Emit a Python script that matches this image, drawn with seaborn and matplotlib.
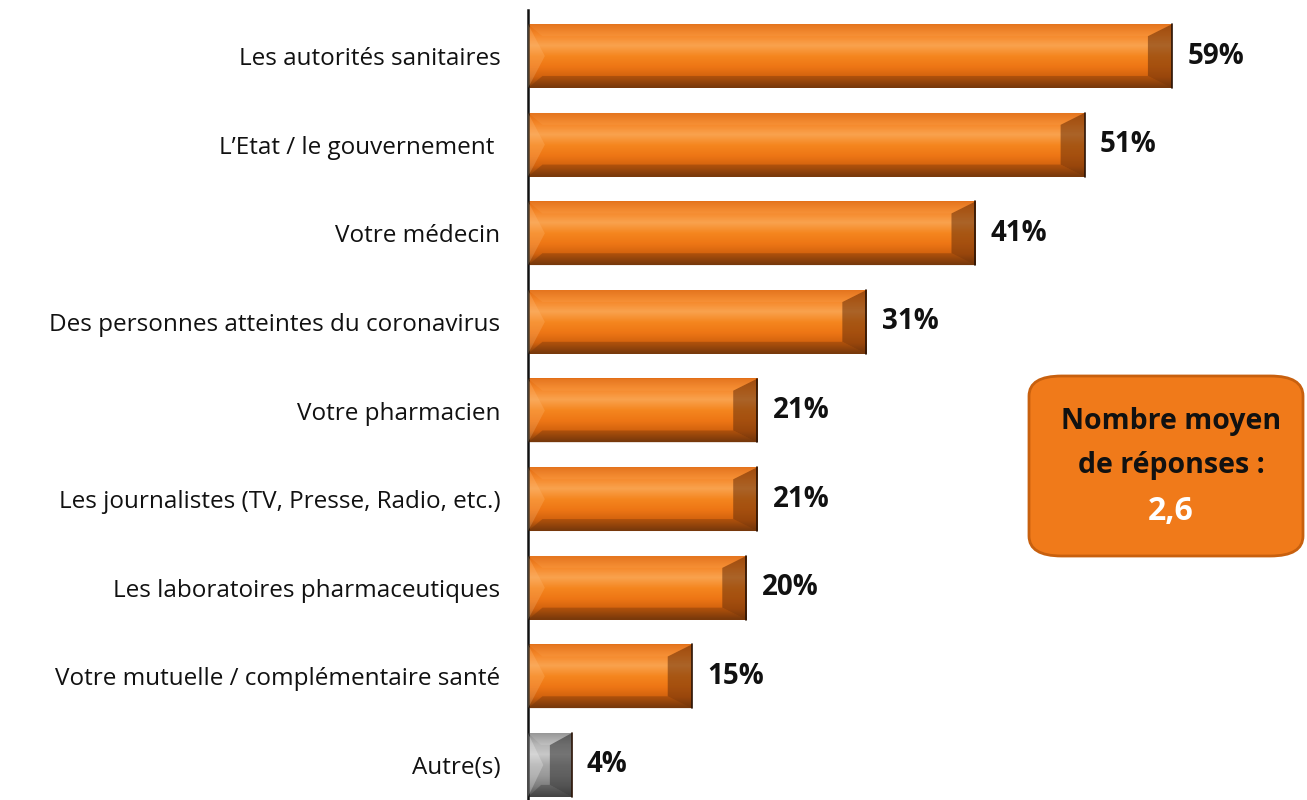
import matplotlib.pyplot as plt
import numpy as np
import pandas as pd
import seaborn as sns
from matplotlib.colors import LinearSegmentedColormap
from matplotlib.patches import Polygon, FancyBboxPatch

categories = [
    "Les autorités sanitaires",
    "L\u2019Etat / le gouvernement ",
    "Votre médecin",
    "Des personnes atteintes du coronavirus",
    "Votre pharmacien",
    "Les journalistes (TV, Presse, Radio, etc.)",
    "Les laboratoires pharmaceutiques",
    "Votre mutuelle / complémentaire santé",
    "Autre(s)",
]
values = [59, 51, 41, 31, 21, 21, 20, 15, 4]
box_lines = ["Nombre moyen", "de réponses :"]
box_value = "2,6"

df = pd.DataFrame({"cat": categories, "val": values})

sns.set_theme(style="white")
plt.rcParams["font.family"] = ["Open Sans", "DejaVu Sans"]

fig = plt.figure(figsize=(13.07, 8), dpi=100)
ax = fig.add_axes([0.404, 0.0, 0.5845, 0.9875])

orange = "#F07A1A"
grey = "#9A9A9A"
palette = [grey if c == "Autre(s)" else orange for c in categories]
sns.barplot(data=df, y="cat", x="val", hue="cat", palette=palette, legend=False,
            orient="h", width=0.72, ax=ax, saturation=1)

ax.set_xlim(0, 70)
ax.set_ylim(8.395, -0.52)

cmap_or = LinearSegmentedColormap.from_list(
    "or", ["#E26C12", "#F5882A", "#F9A24E", "#F5861F", "#EE7615", "#D2620E", "#7E3D0C"])
cmap_gr = LinearSegmentedColormap.from_list(
    "gr", ["#8C8C8C", "#B5B5B5", "#C8C8C8", "#A8A8A8", "#999999", "#7E7E7E", "#4E4E4E"])
grad = np.linspace(0, 1, 64).reshape(-1, 1)

# px -> data unit conversion for the bevels
px_x = 70 / (0.5845 * 1307)
px_y = (8.395 + 0.52) / (0.9875 * 800)

for patch, cat, val in zip(ax.patches, categories, values):
    x0, y0 = patch.get_x(), patch.get_y()
    w, h = patch.get_width(), patch.get_height()
    x1, yb = x0 + w, y0 + h
    is_grey = cat == "Autre(s)"
    cm = cmap_gr if is_grey else cmap_or
    ax.imshow(grad, cmap=cm, aspect="auto", origin="upper",
              extent=(x0, x1, yb, y0), zorder=2, interpolation="bicubic")
    dx = min(24 * px_x, w / 2)
    dy = 12 * px_y
    dark = "#6A300A" if not is_grey else "#303030"
    light = "#FFC080" if not is_grey else "#FFFFFF"
    # right end bevel (dark)
    ax.add_patch(Polygon([(x1, y0), (x1, yb), (x1 - dx, yb - dy), (x1 - dx, y0 + dy)],
                         closed=True, facecolor=dark, alpha=0.55, lw=0, zorder=3))
    # left end bevel (slightly lighter)
    ax.add_patch(Polygon([(x0, y0), (x0 + dx * 0.7, y0 + h / 2), (x0, yb)],
                         closed=True, facecolor=light, alpha=0.25, lw=0, zorder=3))
    # top bevel
    ax.add_patch(Polygon([(x0, y0), (x1, y0), (x1 - dx, y0 + dy), (x0 + dx * 0.6, y0 + dy)],
                         closed=True, facecolor=light, alpha=0.12, lw=0, zorder=3))
    # bottom bevel
    ax.add_patch(Polygon([(x0, yb), (x1, yb), (x1 - dx, yb - dy), (x0 + dx * 0.6, yb - dy)],
                         closed=True, facecolor=dark, alpha=0.35, lw=0, zorder=3))
    ax.plot([x1, x1], [y0, yb], color="#2A1204", lw=1.2, zorder=4)
    ax.text(x1 + 1.4, y0 + h / 2, f"{val}%", va="center", ha="left",
            fontsize=20, fontweight="bold", color="#111111")
    patch.set_visible(False)

ax.set_xlabel("")
ax.set_ylabel("")
ax.set_xticks([])
ax.tick_params(axis="y", length=0, pad=20, labelsize=17.5, labelcolor="#111111")
for s in ["top", "right", "bottom"]:
    ax.spines[s].set_visible(False)
ax.spines["left"].set_color("#111111")
ax.spines["left"].set_linewidth(1.8)

# info box
box = FancyBboxPatch((1029 / 1307, 1 - 556 / 800), 274 / 1307, 180 / 800,
                     boxstyle="round,pad=0,rounding_size=0.025",
                     transform=fig.transFigure, facecolor="#F07A1A",
                     edgecolor="#C8600E", lw=2, zorder=5)
fig.patches.append(box)
fig.text(1171 / 1307, 1 - 422 / 800, box_lines[0], ha="center", va="center",
         fontsize=20.5, fontweight="bold", color="#111111", zorder=6)
fig.text(1171 / 1307, 1 - 466 / 800, box_lines[1], ha="center", va="center",
         fontsize=20.5, fontweight="bold", color="#111111", zorder=6)
fig.text(1171 / 1307, 1 - 512 / 800, box_value, ha="center", va="center",
         fontsize=23, fontweight="bold", color="white", zorder=6)

fig.savefig("out.png", dpi=100)
